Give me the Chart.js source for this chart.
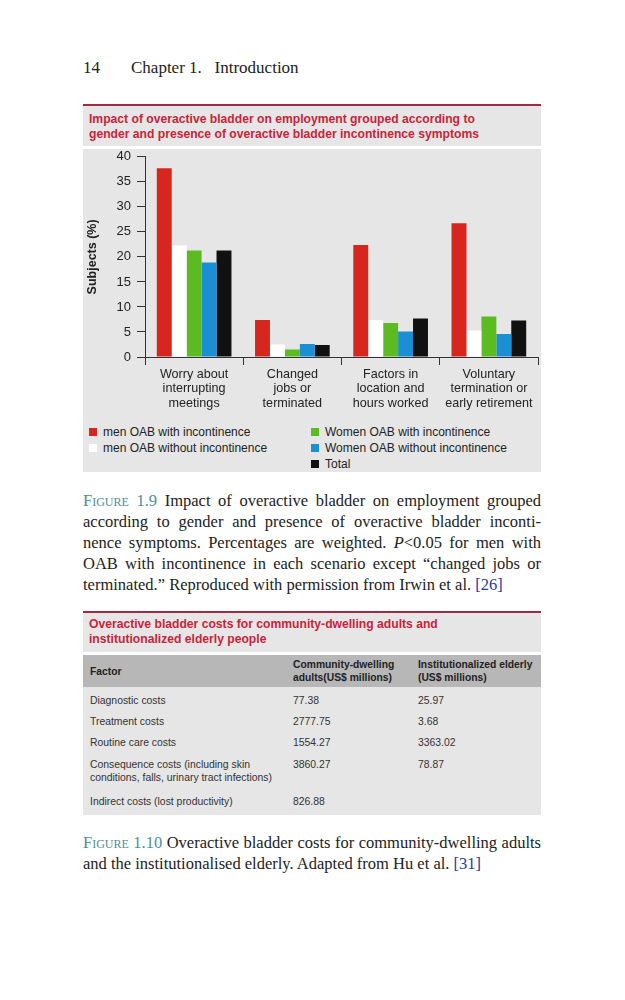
<!DOCTYPE html>
<html>
<head>
<meta charset="utf-8">
<script src="https://cdn.jsdelivr.net/npm/chart.js@4"></script>
<style>
  body { margin:0; background:#fff; width:625px; height:1000px; position:relative; font-family:"Liberation Serif", serif; color:#222; }
  .abs { position:absolute; }
  .serif { font-family:"Liberation Serif", serif; font-size:16.5px; line-height:21px; color:#222; }
  .line { text-align:justify; text-align-last:justify; white-space:nowrap; }
  .last { text-align:left; text-align-last:left; }
  .sc { font-variant:small-caps; color:#4f8e99; }
  .ref { color:#2a3a9a; }
  .sans { font-family:"Liberation Sans", Arial, sans-serif; }
  .redline { background:#a02a42; height:2px; }
  .box { background:#e6e6e6; }
  .boxtitle { color:#c8233a; font-weight:bold; font-size:12.15px; line-height:15px; }
  #legend div { position:absolute; font-size:12px; color:#222; white-space:nowrap; }
  #legend span { display:inline-block; width:8px; height:8px; margin-right:6px; }
  table { border-collapse:collapse; table-layout:fixed; font-size:10.4px; color:#333; }
</style>
</head>
<body>
<div class="abs serif" style="left:83px; top:57px; font-size:17px;">14</div>
<div class="abs serif" style="left:131px; top:57px; font-size:17px;">Chapter 1.&nbsp;&nbsp; Introduction</div>

<div class="abs redline" style="left:83px; top:104px; width:458px;"></div>
<div class="abs box" style="left:83px; top:106px; width:458px; height:40px;"></div>
<div class="abs sans boxtitle" style="left:89px; top:112px;">Impact of overactive bladder on employment grouped according to<br>gender and presence of overactive bladder incontinence symptoms</div>
<div class="abs box" style="left:83px; top:149px; width:458px; height:323px;"></div>
<div class="abs" style="left:83px; top:143px; width:458px; height:276px;"><canvas id="chart" width="458" height="276"></canvas></div>
<div id="legend" class="abs sans" style="left:0; top:0;"></div>

<div class="abs serif" style="left:83px; top:490px; width:458px;">
  <div class="line"><span class="sc">Figure 1.9</span> Impact of overactive bladder on employment grouped</div>
  <div class="line">according to gender and presence of overactive bladder inconti-</div>
  <div class="line">nence symptoms. Percentages are weighted. <i>P</i>&lt;0.05 for men with</div>
  <div class="line">OAB with incontinence in each scenario except “changed jobs or</div>
  <div class="line last">terminated.” Reproduced with permission from Irwin et al. <span class="ref">[26]</span></div>
</div>

<div class="abs redline" style="left:83px; top:611px; width:458px;"></div>
<div class="abs box" style="left:83px; top:613px; width:458px; height:39px;"></div>
<div class="abs sans boxtitle" style="left:89px; top:617px;">Overactive bladder costs for community-dwelling adults and<br>institutionalized elderly people</div>
<div class="abs sans" style="left:83px; top:655px; width:458px;">
  <table id="costs" style="width:458px;"></table>
</div>

<div class="abs serif" style="left:83px; top:832px; width:458px;">
  <div class="line"><span class="sc">Figure 1.10</span> Overactive bladder costs for community-dwelling adults</div>
  <div class="line last">and the institutionalised elderly. Adapted from Hu et al. <span class="ref">[31]</span></div>
</div>

<script>
const categories = [
  ['Worry about', 'interrupting', 'meetings'],
  ['Changed', 'jobs or', 'terminated'],
  ['Factors in', 'location and', 'hours worked'],
  ['Voluntary', 'termination or', 'early retirement']
];
const seriesNames = [
  'men OAB with incontinence',
  'men OAB without incontinence',
  'Women OAB with incontinence',
  'Women OAB without incontinence',
  'Total'
];
const seriesColors = ['#d7261e', '#ffffff', '#5dbb22', '#1b8fd3', '#111111'];
const menWithInc = [37.7, 7.4, 22.4, 26.7];
const menWithoutInc = [22.3, 2.5, 7.4, 5.3];
const womenWithInc = [21.3, 1.5, 6.8, 8.1];
const womenWithoutInc = [18.9, 2.6, 5.1, 4.6];
const total = [21.3, 2.4, 7.7, 7.3];
const yTicks = [0, 5, 10, 15, 20, 25, 30, 35, 40];

const costHeader = ['Factor', 'Community-dwelling<br>adults(US$ millions)', 'Institutionalized elderly<br>(US$ millions)'];
const costFactors = ['Diagnostic costs', 'Treatment costs', 'Routine care costs',
  'Consequence costs (including skin<br>conditions, falls, urinary tract infections)', 'Indirect costs (lost productivity)'];
const communityCosts = ['77.38', '2777.75', '1554.27', '3860.27', '826.88'];
const institutionCosts = ['25.97', '3.68', '3363.02', '78.87', ''];

const seriesData = [menWithInc, menWithoutInc, womenWithInc, womenWithoutInc, total];

new Chart(document.getElementById('chart').getContext('2d'), {
  type: 'bar',
  data: {
    labels: categories,
    datasets: seriesNames.map((name, i) => ({
      label: name,
      data: seriesData[i],
      backgroundColor: seriesColors[i],
      borderWidth: 0,
      barPercentage: 1,
      categoryPercentage: 0.76
    }))
  },
  options: {
    responsive: false,
    animation: false,
    layout: { padding: { top: 0, right: 3, left: 0, bottom: 0 } },
    plugins: { legend: { display: false }, tooltip: { enabled: false } },
    scales: {
      x: {
        grid: { offset: true, drawOnChartArea: false, drawTicks: true, tickLength: 8, color: '#333' },
        border: { color: '#333' },
        ticks: { color: '#222', padding: 2, font: { family: 'Liberation Sans', size: 12.6, lineHeight: 1.15 }, maxRotation: 0, autoSkip: false },
        afterFit: s => { s.height = 62; }
      },
      y: {
        min: 0, max: 40,
        afterBuildTicks: s => { s.ticks = yTicks.map(v => ({ value: v })); },
        grid: { drawOnChartArea: false, drawTicks: true, tickLength: 8, color: '#333' },
        border: { color: '#333' },
        ticks: { color: '#222', padding: 6, font: { family: 'Liberation Sans', size: 13 } },
        title: { display: true, text: 'Subjects (%)', color: '#222', padding: { top: 2, bottom: 0 },
          font: { family: 'Liberation Sans', size: 12.5, weight: 'bold' } },
        afterFit: s => { s.width = 62; }
      }
    }
  }
});

// legend in two columns, built from the series arrays
const legendPos = [[89, 425], [89, 441], [311, 425], [311, 441], [311, 457]];
const legend = document.getElementById('legend');
seriesNames.forEach((name, i) => {
  const d = document.createElement('div');
  d.style.left = legendPos[i][0] + 'px';
  d.style.top = legendPos[i][1] + 'px';
  d.innerHTML = '<span style="background:' + seriesColors[i] + '"></span>' + name;
  legend.appendChild(d);
});

// cost table
const rowHeights = [24, 21, 22, 37, 24];
const tbl = document.getElementById('costs');
let html = '<colgroup><col style="width:210px"><col style="width:125px"><col style="width:123px"></colgroup>' +
  '<tr style="background:#b7b7b7; height:32px; font-weight:bold; color:#222; font-size:10.3px;">' +
  costHeader.map((h, j) => '<td style="padding:0 0 0 ' + (j === 0 ? 7 : 0) + 'px; line-height:13px;">' + h + '</td>').join('') + '</tr>';
costFactors.forEach((f, i) => {
  const pad = i === 0 ? 7 : 4;
  html += '<tr style="background:#e6e6e6; height:' + rowHeights[i] + 'px; vertical-align:top; line-height:13px;">' +
    '<td style="padding:' + pad + 'px 0 0 7px;">' + f + '</td>' +
    '<td style="padding:' + pad + 'px 0 0 0;">' + communityCosts[i] + '</td>' +
    '<td style="padding:' + pad + 'px 0 0 0;">' + institutionCosts[i] + '</td></tr>';
});
tbl.innerHTML = html;
</script>
</body>
</html>
